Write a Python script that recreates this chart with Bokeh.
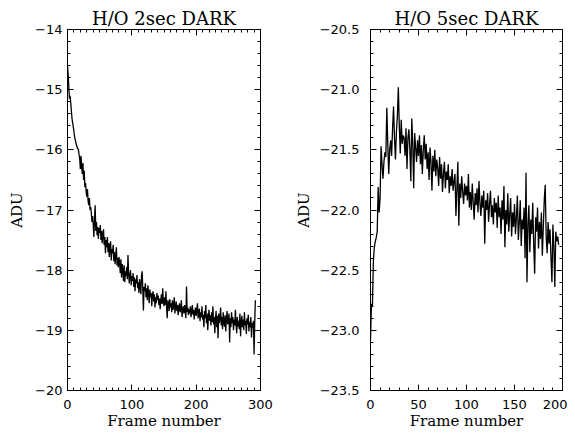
from bokeh.plotting import figure
from bokeh.layouts import row
from bokeh.models import LinearAxis, FixedTicker, Range1d
from bokeh.embed import file_html
from bokeh.resources import INLINE

# ---------------- data ----------------
adu_2sec = [
    -14.60, -14.75, -14.95, -15.15, -15.10, -15.22, -15.35, -15.48, -15.55, -15.62,
    -15.70, -15.78, -15.83, -15.88, -15.92, -15.96, -15.98, -16.00, -16.08, -16.15,
    -16.32, -16.10, -16.28, -16.40, -16.22, -16.50, -16.35, -16.62, -16.55, -16.70,
    -16.78, -16.65, -16.85, -16.92, -16.80, -17.00, -16.95, -17.05, -17.20, -17.10,
    -17.25, -17.45, -17.15, -16.92, -17.35, -17.20, -17.42, -17.28, -17.48, -17.30,
    -17.38, -17.25, -17.50, -17.35, -17.55, -17.40, -17.32, -17.58, -17.45, -17.72,
    -17.50, -17.62, -17.45, -17.70, -17.55, -17.78, -17.60, -17.52, -17.84, -17.65,
    -17.72, -17.58, -17.85, -17.70, -17.90, -17.75, -17.62, -17.92, -17.80, -17.95,
    -17.78, -17.88, -18.05, -17.82, -18.12, -17.90, -18.00, -18.18, -17.92, -18.20,
    -18.02, -18.10, -17.95, -18.15, -17.75, -18.05, -18.22, -18.08, -18.00, -18.25,
    -18.10, -18.18, -18.05, -18.28, -18.12, -18.35, -18.15, -18.22, -18.08, -18.30,
    -18.20, -18.38, -18.15, -18.25, -18.40, -18.10, -18.02, -18.30, -18.67, -18.28,
    -18.35, -18.22, -18.45, -18.30, -18.50, -18.25, -18.40, -18.55, -18.32, -18.45,
    -18.38, -18.60, -18.42, -18.35, -18.52, -18.40, -18.62, -18.45, -18.55, -18.38,
    -18.50, -18.42, -18.58, -18.47, -18.65, -18.50, -18.40, -18.56, -18.30, -18.52,
    -18.60, -18.45, -18.58, -18.35, -18.62, -18.80, -18.50, -18.55, -18.68, -18.48,
    -18.62, -18.55, -18.70, -18.50, -18.66, -18.58, -18.45, -18.72, -18.60, -18.52,
    -18.68, -18.58, -18.75, -18.62, -18.55, -18.70, -18.64, -18.50, -18.78, -18.66,
    -18.60, -18.72, -18.58, -18.68, -18.80, -18.27, -18.70, -18.62, -18.75, -18.65,
    -18.72, -18.60, -18.78, -18.68, -18.58, -18.74, -18.66, -18.82, -18.70, -18.62,
    -18.76, -18.68, -18.55, -18.80, -18.72, -18.64, -18.85, -18.70, -18.78, -18.60,
    -18.82, -18.74, -18.95, -18.68, -18.80, -18.58, -18.88, -18.72, -19.00, -18.78,
    -18.66, -18.84, -18.75, -18.92, -18.70, -18.86, -18.60, -18.90, -18.78, -19.05,
    -18.82, -18.68, -18.95, -18.76, -19.13, -18.72, -18.88, -18.80, -18.62, -18.92,
    -18.78, -18.98, -18.70, -18.86, -18.94, -18.75, -19.02, -18.82, -18.68, -18.90,
    -18.84, -18.72, -19.20, -18.80, -18.95, -18.70, -18.88, -18.78, -19.00, -18.82,
    -18.92, -18.66, -18.90, -19.05, -18.78, -18.94, -18.84, -18.98, -18.72, -19.10,
    -18.86, -18.76, -18.95, -18.82, -19.00, -18.70, -18.92, -18.84, -19.06, -18.80,
    -18.90, -18.74, -19.02, -18.86, -18.95, -18.78, -19.12, -18.88, -18.96, -18.84,
    -19.40, -18.88, -18.50,
]
frames_2sec = list(range(len(adu_2sec)))

adu_5sec = [
    -23.08, -22.78, -22.80, -22.42, -22.31, -22.26, -22.23, -22.18, -21.81, -22.02,
    -21.90, -21.47, -21.62, -21.74, -21.60, -21.52, -21.56, -21.15, -21.45, -21.70,
    -21.50, -21.42, -21.55, -21.32, -21.14, -21.40, -21.58, -21.35, -21.22, -20.98,
    -21.30, -21.53, -21.25, -21.45, -21.38, -21.40, -21.55, -21.32, -21.66, -21.40,
    -21.33, -21.50, -21.76, -21.24, -21.45, -21.82, -21.36, -21.48, -21.60, -21.42,
    -21.55, -21.38, -21.62, -21.46, -21.70, -21.50, -21.38, -21.58, -21.45, -21.66,
    -21.52, -21.75, -21.48, -21.60, -21.84, -21.55, -21.68, -21.50, -21.72, -21.58,
    -21.65, -21.80, -21.56, -21.74, -21.62, -21.85, -21.70, -21.60, -21.82, -21.68,
    -21.75, -21.62, -21.86, -21.72, -21.80, -21.66, -21.84, -21.76, -21.70, -22.05,
    -21.82, -21.60, -22.13, -21.78, -21.90, -21.72, -21.85, -21.95, -21.78, -21.88,
    -21.80, -21.92, -21.70, -21.98, -21.85, -22.00, -21.78, -21.94, -22.08, -21.86,
    -21.96, -21.82, -22.02, -21.76, -21.94, -22.05, -21.88, -21.98, -21.84, -22.28,
    -21.92, -22.00, -21.86, -22.10, -21.95, -21.84, -22.06, -21.96, -22.12, -21.90,
    -22.02, -21.94, -22.15, -21.88, -22.06, -21.98, -22.20, -21.92, -22.08, -21.80,
    -22.31, -22.00, -22.12, -21.86, -22.18, -22.04, -21.90, -22.22, -22.02, -22.14,
    -21.95, -22.20, -22.06, -21.88, -22.25, -22.10, -21.92, -22.30, -22.08, -22.16,
    -21.98, -22.40, -21.69, -22.60, -22.12, -21.96, -22.35, -22.08, -22.20, -21.94,
    -22.28, -22.53, -22.06, -22.18, -21.98, -22.32, -22.10, -22.24, -22.02, -22.38,
    -22.14, -21.92, -21.79, -22.22, -22.36, -22.10, -22.28, -22.16, -22.40, -22.60,
    -22.12, -22.30, -22.64, -22.18, -22.26, -22.22, -22.29,
]
frames_5sec = list(range(len(adu_5sec)))

titles = ["H/O 2sec DARK", "H/O 5sec DARK"]
x_label = "Frame number"
y_label = "ADU"

x_ticks_2sec = [0, 100, 200, 300]
x_minor_2sec = list(range(0, 301, 10))
y_ticks_2sec = [-20, -19, -18, -17, -16, -15, -14]
y_minor_2sec = [round(-20 + 0.2 * i, 1) for i in range(31)]
y_labels_2sec = ["\u221220", "\u221219", "\u221218", "\u221217", "\u221216", "\u221215", "\u221214"]

x_ticks_5sec = [0, 50, 100, 150, 200]
x_minor_5sec = list(range(0, 201, 10))
y_ticks_5sec = [-23.5, -23.0, -22.5, -22.0, -21.5, -21.0, -20.5]
y_minor_5sec = [round(-23.5 + 0.1 * i, 1) for i in range(31)]
y_labels_5sec = ["\u221223.5", "\u221223.0", "\u221222.5", "\u221222.0", "\u221221.5", "\u221221.0", "\u221220.5"]

TICK_FONT = "DejaVu Sans"
TEXT_FONT = "DejaVu Serif"


def style_axis(ax, ticks, minors, labels=None, show=True, label=None):
    ax.ticker = FixedTicker(ticks=ticks, minor_ticks=minors)
    ax.major_tick_in = 6
    ax.major_tick_out = 0
    ax.minor_tick_in = 3
    ax.minor_tick_out = 0
    ax.axis_line_color = "black"
    ax.major_tick_line_color = "black"
    ax.minor_tick_line_color = "black"
    ax.major_label_text_font = TICK_FONT
    if show:
        ax.major_label_text_color = "black"
        ax.major_label_text_font_size = "13px"
        ax.major_label_standoff = 5
        if labels is not None:
            ax.major_label_overrides = {t: l for t, l in zip(ticks, labels)}
    else:
        ax.major_label_text_color = None
        ax.major_label_text_alpha = 0
        ax.major_label_text_font_size = "1px"
        ax.major_label_standoff = 0
    if label:
        ax.axis_label = label
        ax.axis_label_text_font = TEXT_FONT
        ax.axis_label_text_font_size = "15px"
        ax.axis_label_text_font_style = "normal"
        ax.axis_label_text_color = "black"
        ax.axis_label_standoff = 6


def make_panel(title, xs, ys, xr, yr, xt, xm, yt, ym, ylabels, width,
               border_left, border_right, ylabel_standoff, yaxis_label_standoff):
    p = figure(width=width, height=432, output_backend="svg", toolbar_location=None,
               x_range=Range1d(*xr), y_range=Range1d(*yr),
               min_border_left=border_left, min_border_right=border_right,
               min_border_top=29, min_border_bottom=4,
               x_axis_location=None, y_axis_location=None)
    p.title.text = title
    p.title.text_font = TEXT_FONT
    p.title.text_font_size = "18px"
    p.title.text_font_style = "normal"
    p.title.text_color = "black"
    p.title.align = "center"
    p.title.standoff = 2
    p.xgrid.visible = False
    p.ygrid.visible = False
    p.outline_line_color = "black"
    p.background_fill_color = "white"
    p.border_fill_color = "white"

    bottom = LinearAxis()
    style_axis(bottom, xt, xm, [str(t) for t in xt], True, x_label)
    bottom.major_label_standoff = 9
    bottom.axis_label_standoff = 0
    p.add_layout(bottom, "below")
    left = LinearAxis()
    style_axis(left, yt, ym, ylabels, True, y_label)
    left.major_label_standoff = ylabel_standoff
    left.axis_label_standoff = yaxis_label_standoff
    p.add_layout(left, "left")
    top = LinearAxis()
    style_axis(top, xt, xm, None, False)
    p.add_layout(top, "above")
    right = LinearAxis()
    style_axis(right, yt, ym, None, False)
    p.add_layout(right, "right")

    p.line(xs, ys, line_color="black", line_width=1.3)
    return p


p1 = make_panel(titles[0], frames_2sec, adu_2sec, (0, 300), (-20, -14),
                x_ticks_2sec, x_minor_2sec, y_ticks_2sec, y_minor_2sec, y_labels_2sec,
                291, 67, 31, 5, 6)
p2 = make_panel(titles[1], frames_5sec, adu_5sec, (0, 200), (-23.5, -20.5),
                x_ticks_5sec, x_minor_5sec, y_ticks_5sec, y_minor_5sec, y_labels_5sec,
                276, 78, 5, 11, 4)

layout = row(p1, p2)
open("out.html", "w").write(file_html(layout, INLINE))
